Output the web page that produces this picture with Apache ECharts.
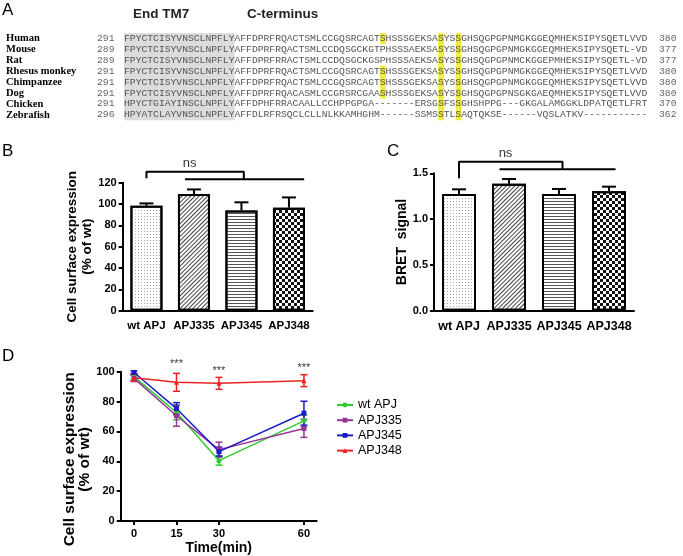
<!DOCTYPE html>
<html lang="en">
<head>
<meta charset="UTF-8">
<title>APJ C-terminus</title>
<script src="https://cdn.jsdelivr.net/npm/echarts@6/dist/echarts.min.js"></script>
<style>
  html, body { margin: 0; padding: 0; background: #fff; }
  #chart { width: 683px; height: 556px; }
</style>
</head>
<body>
<div id="chart"></div>
<script>
// ---- panel A : alignment ----
var species = ['Human', 'Mouse', 'Rat', 'Rhesus monkey', 'Chimpanzee', 'Dog', 'Chicken', 'Zebrafish'];
var seqStart = [291, 289, 289, 291, 291, 291, 291, 296];
var seqEnd = [380, 377, 377, 380, 380, 380, 370, 362];
var sequences = [
  'FPYCTCISYVNSCLNPFLYAFFDPRFRQACTSMLCCGQSRCAGTSHSSSGEKSASYSSGHSQGPGPNMGKGGEQMHEKSIPYSQETLVVD',
  'FPYCTCISYVNSCLNPFLYAFFDPRFRQACTSMLCCDQSGCKGTPHSSSAEKSASYSSGHSQGPGPNMGKGGEQMHEKSIPYSQETL-VD',
  'FPYCTCISYVNSCLNPFLYAFFDPRFRRACTSMLCCDQSGCKGSPHSSSAEKSASYSSGHSQGPGPNMCKGGEPMHEKSIPYSQETL-VD',
  'FPYCTCISYVNSCLNPFLYAFFDPRFRQACTSMLCCGQSRCAGTSHSSSGEKSASYSSGHSQGPGPNMGKGGEQMHEKSIPYSQETLVVD',
  'FPYCTCISYVNSCLNPFLYAFFDPRFRQACTSMLCCGQSRCAGTSHSSSGEKSASYSSGHSQGPGPNMGKGGEQMHEKSIPYSQETLVVD',
  'FPYCTCISYVNSCLNPFLYAFFDPRFRQACASMLCCGRSRCGAASHSSSGEKSASYSSGHSQGPGPNSGKGAEQMHEKSIPYSQETLVVD',
  'HPYCTGIAYINSCLNPFLYAFFDPHFRRACAALLCCHPPGPGA-------ERSGSFSSGHSHPPG---GKGALAMGGKLDPATQETLFRT',
  'HPYATCLAYVNSCLNPFLYAFFDLRFRSQCLCLLNLKKAMHGHM------SSMSSTLSAQTQKSE------VQSLATKV-----------'
];
var highlightCols = [[44, 54, 57], [54, 57], [54, 57], [44, 54, 57], [44, 54, 57], [44, 54, 57], [54, 57], [54, 57]];
var tm7Length = 19;

// ---- panels B and C ----
var mutants = ['wt APJ', 'APJ335', 'APJ345', 'APJ348'];
var surface = [98.4, 109.4, 94, 96.6];
var surfaceUpper = [100.6, 113.7, 101.6, 106.2];
var bret = [1.274, 1.387, 1.274, 1.303];
var bretUpper = [1.325, 1.438, 1.329, 1.354];

// ---- panel D ----
var times = [0, 15, 30, 60];
var wtMean = [96.7, 72.7, 40.4, 67.1];
var wtErr = [2, 5, 3, 4];
var apj335Mean = [95.5, 70.5, 47.8, 62];
var apj335Err = [2, 7, 5, 6];
var apj345Mean = [99.5, 75.3, 46.5, 72.2];
var apj345Err = [1, 4, 3, 8];
var apj348Mean = [96, 92.9, 92.2, 94];
var apj348Err = [2.5, 6, 4, 4];
var starPos = [[15, 105.5], [30, 100.7], [60, 102.2]];

var chart = echarts.init(document.getElementById('chart'));
var SANS = "'Liberation Sans', Arial, sans-serif";

// alignment graphic
var charW = 9.7 * 0.6, seqX = 124, rowY0 = 38.5, rowH = 10.9;
var graphics = [];
graphics.push({ type: 'rect', shape: { x: seqX, y: rowY0 - rowH / 2, width: tm7Length * charW, height: rowH * species.length }, style: { fill: '#dcdcdc' } });
highlightCols.forEach(function (cols, r) {
  cols.forEach(function (c) {
    graphics.push({ type: 'rect', shape: { x: seqX + c * charW, y: rowY0 + r * rowH - rowH / 2, width: charW, height: rowH }, style: { fill: '#f0ec3a' } });
  });
});
species.forEach(function (name, r) {
  var y = rowY0 + r * rowH;
  graphics.push({ type: 'text', z: 10, x: 6, y: y, style: { text: name, font: "bold 10.5px 'Liberation Serif'", fill: '#000', verticalAlign: 'middle' } });
  graphics.push({ type: 'text', z: 10, x: 97, y: y, style: { text: String(seqStart[r]), font: "9.7px 'Liberation Mono'", fill: '#666', verticalAlign: 'middle' } });
  graphics.push({ type: 'text', z: 10, x: seqX, y: y, style: { text: sequences[r], font: "9.7px 'Liberation Mono'", fill: '#555', verticalAlign: 'middle' } });
  graphics.push({ type: 'text', z: 10, x: 659, y: y, style: { text: String(seqEnd[r]), font: "9.7px 'Liberation Mono'", fill: '#666', verticalAlign: 'middle' } });
});
graphics.push({ type: 'text', x: 133, y: 14, style: { text: 'End TM7', font: 'bold 13.5px ' + SANS, fill: '#222', verticalAlign: 'middle' } });
graphics.push({ type: 'text', x: 247, y: 14, style: { text: 'C-terminus', font: 'bold 13.5px ' + SANS, fill: '#222', verticalAlign: 'middle' } });
// panel letters
[['A', 2, 10], ['B', 2, 151], ['C', 387, 151], ['D', 2, 356]].forEach(function (p) {
  graphics.push({ type: 'text', x: p[1], y: p[2], style: { text: p[0], font: '17px ' + SANS, fill: '#000', verticalAlign: 'middle' } });
});

// bar patterns
var decals = [
  { symbol: 'rect', symbolSize: 1, dashArrayX: [1, 2], dashArrayY: [1, 2], color: '#a8a8a8' },
  { symbol: 'rect', symbolSize: 1, dashArrayX: [1, 0], dashArrayY: [1, 2], rotation: -Math.PI / 4, color: '#444' },
  { symbol: 'rect', symbolSize: 1, dashArrayX: [1, 0], dashArrayY: [1, 2], rotation: 0, color: '#555' },
  { symbol: 'rect', symbolSize: 1, dashArrayX: [[3, 3], [0, 3, 3, 0]], dashArrayY: [3, 0], color: '#111' }
];

function barData(vals) {
  return vals.map(function (v, i) {
    return { value: v, itemStyle: { color: '#fff', borderColor: '#000', borderWidth: 2, decal: decals[i] } };
  });
}
function upperErr(api) {
  var p0 = api.coord([api.value(0), api.value(1)]);
  var p1 = api.coord([api.value(0), api.value(2)]);
  var hw = 7;
  return { type: 'group', children: [
    { type: 'line', shape: { x1: p0[0], y1: p0[1], x2: p1[0], y2: p1[1] }, style: { stroke: '#000', lineWidth: 2 } },
    { type: 'line', shape: { x1: p1[0] - hw, y1: p1[1], x2: p1[0] + hw, y2: p1[1] }, style: { stroke: '#000', lineWidth: 2 } }
  ] };
}
function fullErr(color) {
  return function (params, api) {
    var x = api.value(0);
    var lo = api.coord([x, api.value(1)]);
    var hi = api.coord([x, api.value(2)]);
    var hw = 3.5;
    var st = { stroke: color, lineWidth: 1.5 };
    return { type: 'group', children: [
      { type: 'line', shape: { x1: lo[0], y1: lo[1], x2: hi[0], y2: hi[1] }, style: st },
      { type: 'line', shape: { x1: hi[0] - hw, y1: hi[1], x2: hi[0] + hw, y2: hi[1] }, style: st },
      { type: 'line', shape: { x1: lo[0] - hw, y1: lo[1], x2: lo[0] + hw, y2: lo[1] }, style: st }
    ] };
  };
}

var catAxisBase = function (grid, size) {
  return {
    type: 'category', gridIndex: grid, data: mutants,
    axisLine: { onZero: false, lineStyle: { color: '#000', width: 2 } },
    axisTick: { alignWithLabel: true, length: 4, lineStyle: { color: '#000', width: 2 } },
    axisLabel: { interval: 0, color: '#000', fontWeight: 'bold', fontSize: size, fontFamily: SANS, margin: 9 }
  };
};
var hiddenAxis = function (grid) {
  return { type: 'value', gridIndex: grid, min: -0.5, max: 3.5, show: false };
};
var valAxisStyle = {
  axisLine: { show: true, onZero: false, lineStyle: { color: '#000', width: 2 } },
  axisTick: { show: true, length: 4, lineStyle: { color: '#000', width: 2 } },
  splitLine: { show: false },
  axisLabel: { color: '#000', fontWeight: 'bold', fontSize: 11, fontFamily: SANS, margin: 6 },
  nameLocation: 'middle',
  nameTextStyle: { color: '#000', fontWeight: 'bold', fontFamily: SANS, fontSize: 13.5, lineHeight: 15 }
};

var bracketLine = { color: '#000', width: 2 };
var dSeries = [
  { name: 'wt APJ', mean: wtMean, err: wtErr, color: '#2ecc2e', symbol: 'circle' },
  { name: 'APJ335', mean: apj335Mean, err: apj335Err, color: '#993399', symbol: 'rect' },
  { name: 'APJ345', mean: apj345Mean, err: apj345Err, color: '#1c1cc4', symbol: 'rect' },
  { name: 'APJ348', mean: apj348Mean, err: apj348Err, color: '#ee2222', symbol: 'triangle' }
];

var series = [
  // B
  { type: 'bar', xAxisIndex: 0, yAxisIndex: 0, barWidth: 32, data: barData(surface), silent: true },
  { type: 'custom', xAxisIndex: 0, yAxisIndex: 0, renderItem: function (p, api) { return upperErr(api); },
    data: surface.map(function (v, i) { return [i, v, surfaceUpper[i]]; }), z: 5 },
  { type: 'line', xAxisIndex: 1, yAxisIndex: 0, clip: false, symbol: 'none', lineStyle: bracketLine,
    data: [[0, 124.1], [0, 130.3], [2.05, 130.3], [2.05, 123.2]] },
  { type: 'line', xAxisIndex: 1, yAxisIndex: 0, clip: false, symbol: 'none', lineStyle: bracketLine,
    data: [[0.81, 123.2], [3.32, 123.2]] },
  { type: 'scatter', xAxisIndex: 1, yAxisIndex: 0, clip: false, symbolSize: 0, data: [[0.91, 138.2]],
    label: { show: true, position: 'inside', formatter: 'ns', color: '#000', fontSize: 13, fontFamily: SANS } },
  // C
  { type: 'bar', xAxisIndex: 2, yAxisIndex: 1, barWidth: 34, data: barData(bret), silent: true },
  { type: 'custom', xAxisIndex: 2, yAxisIndex: 1, renderItem: function (p, api) { return upperErr(api); },
    data: bret.map(function (v, i) { return [i, v, bretUpper[i]]; }), z: 5 },
  { type: 'line', xAxisIndex: 3, yAxisIndex: 1, clip: false, symbol: 'none', lineStyle: bracketLine,
    data: [[0, 1.445], [0, 1.627], [2.07, 1.627], [2.07, 1.544]] },
  { type: 'line', xAxisIndex: 3, yAxisIndex: 1, clip: false, symbol: 'none', lineStyle: bracketLine,
    data: [[0.81, 1.544], [3.13, 1.544]] },
  { type: 'scatter', xAxisIndex: 3, yAxisIndex: 1, clip: false, symbolSize: 0, data: [[0.93, 1.718]],
    label: { show: true, position: 'inside', formatter: 'ns', color: '#000', fontSize: 13, fontFamily: SANS } },
  // D stars
  { type: 'scatter', xAxisIndex: 4, yAxisIndex: 2, clip: false, symbolSize: 0, data: starPos,
    label: { show: true, position: 'inside', formatter: '***', color: '#000', fontSize: 11, fontFamily: SANS } }
];
dSeries.forEach(function (s) {
  series.push({ type: 'custom', name: s.name + ' err', xAxisIndex: 4, yAxisIndex: 2, renderItem: fullErr(s.color),
    data: times.map(function (t, i) { return [t, s.mean[i] - s.err[i], s.mean[i] + s.err[i]]; }) });
  series.push({ type: 'line', name: s.name, xAxisIndex: 4, yAxisIndex: 2, symbol: s.symbol, symbolSize: 5,
    itemStyle: { color: s.color }, lineStyle: { color: s.color, width: 1.5 },
    data: times.map(function (t, i) { return [t, s.mean[i]]; }) });
});

chart.setOption({
  animation: false,
  textStyle: { fontFamily: SANS },
  graphic: graphics,
  grid: [
    { left: 122.7, top: 182.7, width: 190, height: 128 },
    { left: 434, top: 173.3, width: 200, height: 137.4 },
    { left: 120.7, top: 371.7, width: 196, height: 150 }
  ],
  xAxis: [
    catAxisBase(0, 11.5), hiddenAxis(0), catAxisBase(1, 12.5), hiddenAxis(1),
    Object.assign({}, valAxisStyle, {
      type: 'value', gridIndex: 2, min: -4.7, max: 64.5,
      axisTick: { customValues: times, length: 4, lineStyle: { color: '#000', width: 2 } },
      axisLabel: { customValues: times, color: '#000', fontWeight: 'bold', fontSize: 11, fontFamily: SANS, margin: 7 },
      name: 'Time(min)', nameGap: 20,
      nameTextStyle: { color: '#000', fontWeight: 'bold', fontFamily: SANS, fontSize: 14 }
    })
  ],
  yAxis: [
    Object.assign({}, valAxisStyle, { type: 'value', gridIndex: 0, min: 0, max: 120, interval: 20,
      name: 'Cell surface expression\n(% of wt)', nameGap: 24 }),
    Object.assign({}, valAxisStyle, { type: 'value', gridIndex: 1, min: 0, max: 1.5, interval: 0.5,
      axisLabel: Object.assign({}, valAxisStyle.axisLabel, { formatter: function (v) { return v.toFixed(1); } }),
      name: 'BRET  signal', nameGap: 20,
      nameTextStyle: { color: '#000', fontWeight: 'bold', fontFamily: SANS, fontSize: 14 } }),
    Object.assign({}, valAxisStyle, { type: 'value', gridIndex: 2, min: 0, max: 100, interval: 20,
      name: 'Cell surface expression\n(% of wt)', nameGap: 22,
      nameTextStyle: { color: '#000', fontWeight: 'bold', fontFamily: SANS, fontSize: 15.5, lineHeight: 15, padding: [0, 26, 0, 0] } })
  ],
  legend: {
    data: ['wt APJ', 'APJ335', 'APJ345', 'APJ348'],
    orient: 'vertical', left: 331, top: 393.5, itemWidth: 16, itemHeight: 6, itemGap: 2.2,
    textStyle: { color: '#000', fontSize: 12.5, fontFamily: SANS }
  },
  series: series
});
</script>
</body>
</html>
